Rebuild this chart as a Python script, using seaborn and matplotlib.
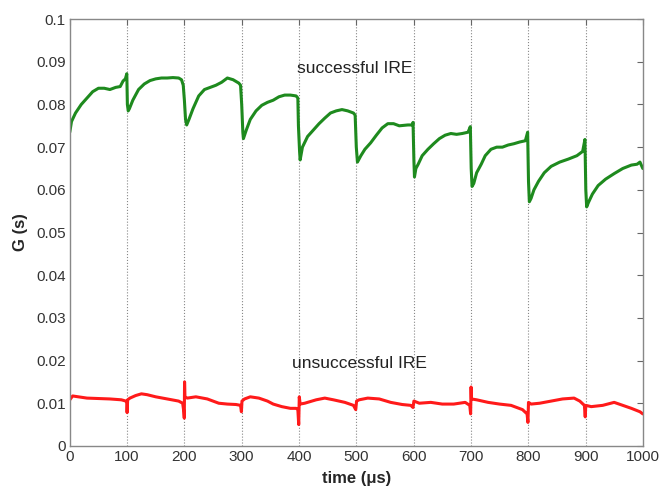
import numpy as np
import pandas as pd
import seaborn as sns
import matplotlib
matplotlib.use("Agg")
import matplotlib.pyplot as plt

sns.set_style("white")
plt.rcParams['font.family'] = ['Liberation Sans', 'DejaVu Sans']

# successful IRE (green)
ok_t = [0, 3, 10, 20, 30, 40, 50, 60, 70, 80, 88, 93, 97, 99.5, 100.5, 102,
        104, 110, 120, 130, 140, 150, 160, 170, 180, 190, 195, 198, 200, 202, 204,
        208, 215, 225, 235, 245, 255, 265, 275, 285, 295, 298, 300, 302, 303,
        308, 315, 325, 335, 345, 355, 365, 375, 385, 395, 398, 399, 401, 402,
        406, 415, 425, 435, 445, 455, 465, 475, 485, 495, 498, 500, 502, 504,
        508, 515, 525, 535, 545, 555, 565, 575, 590, 598, 599, 600.5, 601.5, 604,
        608, 615, 625, 635, 645, 655, 665, 675, 685, 695, 699, 700.5, 702, 705,
        710, 718, 725, 735, 745, 755, 765, 775, 785, 795, 799, 800.5, 802, 805,
        810, 818, 828, 840, 855, 870, 885, 895, 899, 900.5, 902, 905,
        912, 922, 935, 950, 965, 980, 990, 995, 1000]
ok_g = [0.0735, 0.076, 0.078, 0.080, 0.0815, 0.083, 0.0838, 0.0838, 0.0835, 0.084, 0.0842, 0.0855, 0.086, 0.0872, 0.0800, 0.0785,
        0.079, 0.081, 0.0835, 0.0848, 0.0856, 0.0860, 0.0862, 0.0862, 0.0863, 0.0862, 0.0858, 0.0845, 0.081, 0.0765, 0.0752,
        0.0765, 0.079, 0.082, 0.0835, 0.0840, 0.0845, 0.0852, 0.0862, 0.0858, 0.085, 0.0845, 0.080, 0.0735, 0.072,
        0.074, 0.0765, 0.0785, 0.0798, 0.0805, 0.0810, 0.0818, 0.0822, 0.0822, 0.082, 0.0815, 0.075, 0.069, 0.067,
        0.070, 0.0725, 0.074, 0.0755, 0.0768, 0.0780, 0.0785, 0.0788, 0.0785, 0.0780, 0.0775, 0.070, 0.0665, 0.067,
        0.068, 0.0695, 0.071, 0.0728, 0.0745, 0.0755, 0.0755, 0.0750, 0.0752, 0.0752, 0.0758, 0.067, 0.063, 0.065,
        0.066, 0.068, 0.0695, 0.0708, 0.072, 0.0728, 0.0732, 0.0730, 0.0732, 0.0735, 0.0748, 0.065, 0.0608, 0.0615,
        0.064, 0.066, 0.068, 0.0695, 0.070, 0.0700, 0.0705, 0.0708, 0.0712, 0.0715, 0.0735, 0.062, 0.0572, 0.058,
        0.060, 0.062, 0.064, 0.0655, 0.0665, 0.0672, 0.068, 0.069, 0.0718, 0.060, 0.056, 0.057,
        0.059, 0.061, 0.0625, 0.0638, 0.0650, 0.0658, 0.066, 0.0665, 0.065]

# unsuccessful IRE (red)
bad_t = [0, 5, 15, 30, 50, 70, 90, 98, 99.5, 100, 101, 105, 115, 125, 135, 150, 170, 190, 197, 199, 199.8, 200.3, 201,
         205, 220, 240, 250, 260, 275, 290, 298, 299.5, 300.5, 305, 315, 330, 345, 355, 370, 385, 395, 398, 399.5, 400.5, 402,
         410, 430, 445, 460, 480, 495, 499, 500.5, 505, 520, 540, 560, 580, 595, 599, 600.5, 610, 630, 650, 670, 690, 698,
         699.5, 700.3, 701, 710, 730, 750, 770, 790, 798, 799.5, 800.5, 805, 820, 840, 860, 880, 890, 898, 899.5, 900.5,
         910, 930, 950, 965, 980, 995, 1000]
bad_g = [0.0108, 0.0117, 0.0115, 0.0112, 0.0111, 0.011, 0.0108, 0.0105, 0.010, 0.0078, 0.0108, 0.0112, 0.0118, 0.0122, 0.0120, 0.0115, 0.011, 0.0105, 0.010, 0.008, 0.0065, 0.015, 0.0115,
         0.0112, 0.0115, 0.011, 0.0105, 0.010, 0.0098, 0.0097, 0.0095, 0.008, 0.0105, 0.011, 0.0115, 0.0112, 0.0105, 0.0098, 0.0092, 0.0088, 0.0088, 0.0085, 0.005, 0.0115, 0.0098,
         0.010, 0.0108, 0.0112, 0.0108, 0.0102, 0.0095, 0.0085, 0.0105, 0.0108, 0.0112, 0.011, 0.0102, 0.0097, 0.0095, 0.009, 0.0105, 0.010, 0.0102, 0.0098, 0.0098, 0.0102, 0.0095,
         0.0075, 0.0138, 0.011, 0.0108, 0.0102, 0.0098, 0.0095, 0.0085, 0.0075, 0.0055, 0.0102, 0.0098, 0.0100, 0.0105, 0.011, 0.0112, 0.0105, 0.0095, 0.0068, 0.0095,
         0.0092, 0.0095, 0.0102, 0.0095, 0.0088, 0.008, 0.0075]

xticks = [0, 100, 200, 300, 400, 500, 600, 700, 800, 900, 1000]
yticks = [0, 0.01, 0.02, 0.03, 0.04, 0.05, 0.06, 0.07, 0.08, 0.09, 0.1]
ylabels = ['0', '0.01', '0.02', '0.03', '0.04', '0.05', '0.06', '0.07', '0.08', '0.09', '0.1']

ok = pd.DataFrame({'t': ok_t, 'G': ok_g})
bad = pd.DataFrame({'t': bad_t, 'G': bad_g})

fig = plt.figure(figsize=(6.71, 4.90), dpi=100)
ax = fig.add_axes([0.104, 0.090, 0.854, 0.871])

for x in xticks[1:-1]:
	ax.axvline(x, color='#888888', linestyle=':', linewidth=0.8, zorder=0)

sns.lineplot(data=ok, x='t', y='G', ax=ax, color='#1e8a1e', linewidth=2.2, sort=False)
sns.lineplot(data=bad, x='t', y='G', ax=ax, color='#ff1a1a', linewidth=2.2, sort=False)

ax.set_xlim(0, 1000)
ax.set_ylim(0, 0.1)
ax.set_xticks(xticks)
ax.set_xticklabels([str(v) for v in xticks])
ax.set_yticks(yticks)
ax.set_yticklabels(ylabels)
ax.tick_params(direction='in', length=4, top=True, right=True, labelsize=11,
			   color='#666666', labelcolor='#333333', pad=3)
for s in ax.spines.values():
	s.set_color('#888888')
	s.set_linewidth(1.0)

ax.set_xlabel('time (μs)', fontsize=12, fontweight='bold', labelpad=5)
ax.set_ylabel('G (s)', fontsize=12, fontweight='bold', labelpad=6)

ax.text(497, 0.0885, 'successful IRE', ha='center', va='center', fontsize=12.5, color='#222222')
ax.text(506, 0.0192, 'unsuccessful IRE', ha='center', va='center', fontsize=12.5, color='#222222')

fig.savefig('out.png', dpi=100)
